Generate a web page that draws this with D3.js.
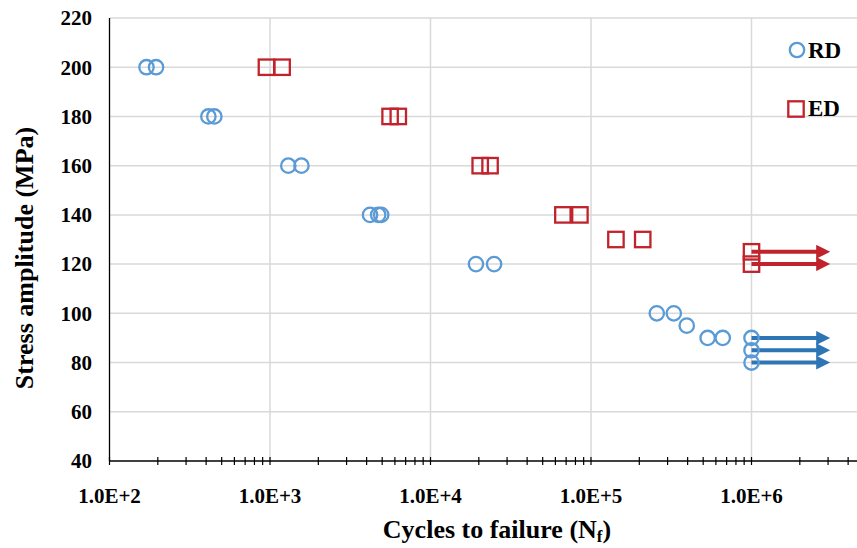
<!DOCTYPE html>
<html>
<head>
<meta charset="utf-8">
<script src="https://cdn.jsdelivr.net/npm/d3@7"></script>
<style>
  body { margin: 0; background: #fff; }
  text { font-family: "Liberation Serif", "Times New Roman", serif; font-weight: bold; fill: #000; }
</style>
</head>
<body>
<div id="container-svg"></div>
<script>
// ****************************** DATA ******************************
var rd_cycles = [170, 195, 413, 450, 1300, 1570, 4200, 4720, 4930, 19200, 24900, 257000, 328000, 395000, 533000, 662000];
var rd_stress = [200, 200, 180, 180, 160, 160, 140, 140, 140, 120, 120, 100, 100, 95, 90, 90];
var rd_runout_cycles = [1e6, 1e6, 1e6];
var rd_runout_stress = [90, 85, 80];

var ed_cycles = [950, 1190, 5600, 6300, 20400, 23500, 66800, 85300, 143000, 210000];
var ed_stress = [200, 200, 180, 180, 160, 160, 140, 140, 130, 130];
var ed_runout_cycles = [1e6, 1e6];
var ed_runout_stress = [125, 120];

var runout_end = 3.2e6;

var x_ticks = [1e2, 1e3, 1e4, 1e5, 1e6];
var x_tick_labels = ["1.0E+2", "1.0E+3", "1.0E+4", "1.0E+5", "1.0E+6"];
var y_ticks = [40, 60, 80, 100, 120, 140, 160, 180, 200, 220];

var legend_names = ["RD", "ED"];

// ************************* DISPLAY VARS ***************************
var svg_width = 857,
    svg_height = 548,
    color_rd = "#5B9BD5",
    color_rd_arrow = "#2E75B6",
    color_ed = "#C0232C",
    color_grid = "#d9d9d9",
    r_circle = 7.2,
    side_sq = 15.4;

var svg = d3.select("#container-svg").append("svg")
    .attr("width", svg_width)
    .attr("height", svg_height);

// ***************************** SCALES *****************************
var scale_x = d3.scaleLog()
    .domain([1e2, 1e7])
    .range([109.5, 109.5 + 5 * 160.5]);

var scale_y = d3.scaleLinear()
    .domain([40, 220])
    .range([461, 18]);

// ***************************** GRID *******************************
svg.append("g").selectAll("line")
    .data(y_ticks.slice(1))
    .enter().append("line")
    .attr("x1", scale_x(1e2)).attr("x2", svg_width)
    .attr("y1", d => scale_y(d)).attr("y2", d => scale_y(d))
    .attr("stroke", color_grid).attr("stroke-width", 1.5);

svg.append("g").selectAll("line")
    .data(x_ticks.slice(1))
    .enter().append("line")
    .attr("x1", d => scale_x(d)).attr("x2", d => scale_x(d))
    .attr("y1", scale_y(220)).attr("y2", scale_y(40))
    .attr("stroke", color_grid).attr("stroke-width", 1.5);

// ***************************** AXES *******************************
svg.append("line")
    .attr("x1", scale_x(1e2)).attr("x2", scale_x(1e2))
    .attr("y1", scale_y(220)).attr("y2", scale_y(40))
    .attr("stroke", "#000").attr("stroke-width", 1.3);

svg.append("line")
    .attr("x1", scale_x(1e2)).attr("x2", svg_width)
    .attr("y1", scale_y(40)).attr("y2", scale_y(40))
    .attr("stroke", "#000").attr("stroke-width", 1.3);

// minor + major ticks on the x axis, crossing the line
var all_ticks = [];
for (var e = 2; e < 7; e++) {
    for (var m = 1; m < 10; m++) all_ticks.push(m * Math.pow(10, e));
}
svg.append("g").selectAll("line")
    .data(all_ticks)
    .enter().append("line")
    .attr("x1", d => scale_x(d)).attr("x2", d => scale_x(d))
    .attr("y1", scale_y(40) - 4).attr("y2", scale_y(40) + 4)
    .attr("stroke", "#000").attr("stroke-width", 1.2);

svg.append("g").selectAll("text")
    .data(x_ticks)
    .enter().append("text")
    .attr("x", d => scale_x(d))
    .attr("y", 503)
    .attr("text-anchor", "middle")
    .style("font-size", "21px")
    .text((d, i) => x_tick_labels[i]);

svg.append("g").selectAll("text")
    .data(y_ticks)
    .enter().append("text")
    .attr("x", 92)
    .attr("y", d => scale_y(d))
    .attr("dy", "0.35em")
    .attr("text-anchor", "end")
    .style("font-size", "21px")
    .text(d => d);

// axis titles
var xt = svg.append("text")
    .attr("x", 497).attr("y", 538)
    .attr("text-anchor", "middle")
    .style("font-size", "26px")
    .text("Cycles to failure (N");
xt.append("tspan").attr("dy", 4).style("font-size", "17px").text("f");
xt.append("tspan").attr("dy", -4).text(")");

svg.append("text")
    .attr("transform", "translate(33,258) rotate(-90)")
    .attr("text-anchor", "middle")
    .style("font-size", "26px")
    .text("Stress amplitude (MPa)");

// ***************************** ARROWS *****************************
var defs = svg.append("defs");
[["arrow-rd", color_rd_arrow], ["arrow-ed", color_ed]].forEach(function(a) {
    defs.append("marker")
        .attr("id", a[0])
        .attr("viewBox", "0 0 10 10")
        .attr("refX", 1).attr("refY", 5)
        .attr("markerUnits", "userSpaceOnUse")
        .attr("markerWidth", 16).attr("markerHeight", 14)
        .attr("orient", "auto")
        .append("path")
        .attr("d", "M0,0 L10,5 L0,10 Z")
        .attr("fill", a[1]);
});

function runouts(cx, sy, color, marker) {
    svg.append("g").selectAll("line")
        .data(cx.map((c, i) => [c, sy[i]]))
        .enter().append("line")
        .attr("x1", d => scale_x(d[0])).attr("x2", scale_x(runout_end) - 15)
        .attr("y1", d => scale_y(d[1])).attr("y2", d => scale_y(d[1]))
        .attr("stroke", color).attr("stroke-width", 4)
        .attr("marker-end", "url(#" + marker + ")");
}
runouts(ed_runout_cycles, ed_runout_stress, color_ed, "arrow-ed");
runouts(rd_runout_cycles, rd_runout_stress, color_rd_arrow, "arrow-rd");

// **************************** MARKERS *****************************
function circles(cx, sy) {
    svg.append("g").selectAll("circle")
        .data(cx.map((c, i) => [c, sy[i]]))
        .enter().append("circle")
        .attr("cx", d => scale_x(d[0]))
        .attr("cy", d => scale_y(d[1]))
        .attr("r", r_circle)
        .attr("fill", "none")
        .attr("stroke", color_rd)
        .attr("stroke-width", 2.3);
}
function squares(cx, sy) {
    svg.append("g").selectAll("rect")
        .data(cx.map((c, i) => [c, sy[i]]))
        .enter().append("rect")
        .attr("x", d => scale_x(d[0]) - side_sq / 2)
        .attr("y", d => scale_y(d[1]) - side_sq / 2)
        .attr("width", side_sq).attr("height", side_sq)
        .attr("fill", "none")
        .attr("stroke", color_ed)
        .attr("stroke-width", 2.3);
}
circles(rd_cycles, rd_stress);
circles(rd_runout_cycles, rd_runout_stress);
squares(ed_cycles, ed_stress);
squares(ed_runout_cycles, ed_runout_stress);

// ***************************** LEGEND *****************************
svg.append("circle")
    .attr("cx", 797).attr("cy", 50).attr("r", r_circle)
    .attr("fill", "none").attr("stroke", color_rd).attr("stroke-width", 2.3);
svg.append("rect")
    .attr("x", 796 - side_sq / 2).attr("y", 109 - side_sq / 2)
    .attr("width", side_sq).attr("height", side_sq)
    .attr("fill", "none").attr("stroke", color_ed).attr("stroke-width", 2.3);
svg.selectAll("text.legend")
    .data(legend_names)
    .enter().append("text")
    .attr("class", "legend")
    .attr("x", 808)
    .attr("y", (d, i) => i === 0 ? 58 : 116)
    .style("font-size", "23px")
    .text(d => d);
</script>
</body>
</html>
